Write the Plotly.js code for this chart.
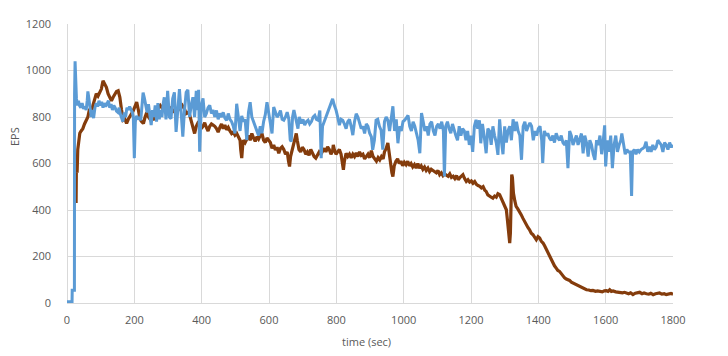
<!DOCTYPE html>
<html>
<head>
<meta charset="utf-8">
<script src="https://cdn.plot.ly/plotly-3.0.1.min.js"></script>
<style>html,body{margin:0;padding:0;background:#fff;}#chart{width:728px;height:356px;}</style>
</head>
<body>
<div id="chart"></div>
<script>
// time (sec) and EPS values
const brownTime = [27,28,30,32,35,38,42,47,52,57,62,67,72,77,82,87,92,97,102,107,112,117,122,127,132,137,142,147,152,157,162,167,172,177,182,187,192,197,202,207,212,217,222,227,232,237,242,247,252,257,262,267,272,277,282,287,292,297,
302,309,314,319,324,329,334,339,344,349,354,359,364,369,374,379,384,389,394,399,404,409,414,419,424,429,434,439,444,449,454,459,464,469,474,479,484,489,494,499,504,509,514,516,519,522,524,529,534,539,544,549,554,559,564,569,574,579,584,589,594,599,604,609,614,619,624,629,634,639,644,649,654,658,661,664,669,674,678,681,684,689,694,699,704,709,714,719,724,729,734,739,744,749,754,759,764,769,774,779,784,789,791,794,799,804,809,814,819,821,824,829,834,839,844,849,854,859,864,869,874,879,884,889,894,899,904,909,914,919,924,929,934,939,943,948,953,957,961,965,968,972,977,982,987,992,997,1002,1007,1012,1017,1022,1027,1032,1037,1042,1047,1052,1057,1062,1067,1072,1077,1082,1087,1092,1097,1102,1107,1112,1117,1122,1127,1132,1137,1142,1147,1152,1157,1162,1167,1172,1176,1181,1186,1191,1196,1201,1206,1211,1216,1221,1226,1231,1236,1241,1245,1250,1255,1260,1265,1270,1275,1280,1285,1290,1295,1300,1305,1308,1310,1313,1315,1317,1318,1320,1321,1323,1326,1330,1334,1339,1344,1349,1354,1359,1364,1369,1374,1379,1384,1389,1394,1399,1404,1409,1414,1419,1424,1429,1433,1438,1443,1448,1453,1458,1463,1468,1473,1478,1483,1488,1493,1498,1503,1508,1513,1518,1523,1528,1533,1538,1543,1550,1556,1562,1570,1576,1582,1590,1596,1602,1607,1612,1617,1622,1630,1636,1642,1650,1656,1661,1668,1674,1681,1688,1695,1701,1708,1714,1721,1728,1734,1741,1748,1754,1760,1767,1774,1780,1787,1794,1800];
const brownEPS = [430,620,560,660,700,730,740,750,770,786,800,835,820,850,880,900,890,906,920,956,940,928,900,885,870,885,900,910,913,885,830,786,790,772,790,800,815,828,850,864,830,790,780,772,800,820,800,790,800,786,820,830,845,850,840,845,835,843,
835,840,820,830,815,825,840,857,845,835,815,820,810,786,765,729,760,775,770,750,760,775,755,740,760,770,765,760,750,735,755,770,750,765,745,755,740,729,735,722,730,715,700,660,623,680,700,690,710,720,700,729,710,695,715,705,720,729,700,690,710,700,690,665,680,658,670,644,665,672,660,640,650,610,587,630,660,690,715,729,700,660,650,670,660,640,650,635,660,645,630,623,640,650,640,655,665,650,672,660,640,655,680,660,640,650,660,640,600,573,610,644,630,640,625,640,630,645,630,650,635,640,620,630,640,625,655,630,620,610,625,615,630,620,650,665,688,640,600,560,544,590,610,620,600,610,590,605,595,610,590,600,585,595,580,600,580,590,575,585,570,580,565,575,570,565,560,570,552,560,548,555,550,545,555,540,545,535,548,530,540,545,552,535,523,530,520,525,515,522,510,505,502,495,500,485,480,465,458,455,451,460,455,470,466,450,437,420,401,360,330,280,258,300,400,500,552,540,473,440,416,405,394,380,365,350,337,325,315,300,294,285,272,285,279,265,258,245,229,215,200,185,172,160,150,140,136,125,114,108,103,100,97,90,86,82,79,75,71,68,64,60,57,56,53,54,50,52,50,48,52,53,50,57,50,52,48,46,47,44,46,43,40,44,36,42,45,46,40,43,40,38,42,36,40,42,43,38,40,36,40,41,38];

const blueTime = [0,15,15.5,22,22.5,24,26,28,31,34,37,41,45,49,53,57,60,62,65,68,72,75,79,83,87,91,95,99,103,107,111,115,119,123,127,131,135,139,143,147,151,155,159,163,166,170,174,178,182,186,190,194,197,200,203,207,211,215,219,223,226,230,234,238,242,246,250,254,258,262,266,270,274,278,282,286,289,294,299,304,309,314,319,324,329,334,339,344,349,354,359,364,369,374,379,384,389,391,394,399,404,409,414,419,424,429,434,439,444,449,454,459,464,469,474,479,484,489,494,499,504,509,514,519,524,529,534,539,544,549,554,559,564,569,574,579,584,589,594,599,604,609,614,619,624,629,634,639,644,649,654,659,663,666,670,674,678,682,686,690,696,701,706,711,716,721,726,731,736,741,746,751,755,759,764,769,774,779,784,789,794,799,804,809,814,819,824,829,834,839,844,849,854,859,864,869,874,879,884,889,894,899,904,908,913,918,923,928,933,938,943,948,953,958,963,968,973,978,983,988,993,998,1003,1008,1013,1018,1023,1028,1033,1038,1043,1048,1053,1058,1063,1068,1073,1078,1083,1088,1093,1098,1103,1108,1113,1118,1121,1125,1130,1135,1140,1145,1150,1155,1160,1165,1170,1175,1180,1185,1190,1195,1200,1205,1210,1215,1220,1225,1229,1234,1239,1245,1250,1255,1260,1265,1270,1275,1280,1285,1290,1295,1300,1305,1310,1315,1320,1325,1330,1335,1340,1345,1350,1355,1360,1365,1370,1375,1380,1385,1390,1395,1400,1405,1410,1413,1418,1423,1428,1433,1438,1443,1448,1453,1458,1463,1468,1473,1478,1483,1488,1493,1498,1503,1508,1513,1518,1523,1528,1533,1538,1543,1548,1553,1558,1563,1568,1573,1578,1583,1588,1593,1597,1600,1605,1610,1615,1620,1625,1630,1635,1640,1645,1648,1653,1658,1663,1668,1673,1677,1680,1685,1690,1695,1700,1705,1710,1715,1720,1725,1730,1735,1740,1745,1750,1755,1760,1765,1770,1775,1780,1785,1790,1795,1800];
const blueEPS = [5,5,55,55,900,1040,960,880,850,870,850,840,860,835,845,830,870,910,880,850,800,830,795,840,860,845,870,850,865,840,860,845,855,870,840,855,830,850,840,825,820,840,810,790,780,820,800,840,830,845,835,820,800,623,780,805,790,800,785,845,905,880,850,820,855,800,765,830,800,850,780,860,790,830,800,860,885,790,913,800,793,880,906,736,830,920,820,715,830,906,917,800,850,885,800,913,830,917,651,850,880,800,815,840,850,815,830,800,828,790,815,800,820,795,785,815,790,780,760,729,857,800,740,805,780,790,701,820,864,800,780,760,740,720,760,730,780,810,864,820,786,729,843,820,800,810,828,790,786,800,821,790,702,694,800,830,800,780,750,800,772,790,765,780,786,770,780,800,807,790,786,828,623,760,780,800,820,843,860,878,850,830,800,765,790,786,770,750,780,790,760,722,780,814,800,770,750,760,729,770,760,730,715,659,700,786,790,760,743,660,780,800,786,740,790,846,740,790,687,760,740,780,786,800,807,760,740,780,760,730,700,644,817,780,740,760,720,770,780,740,720,760,770,750,780,740,544,760,780,750,730,770,740,720,700,760,720,750,740,700,740,680,720,650,760,788,750,786,687,770,720,644,750,740,680,760,720,690,637,790,701,640,760,690,740,760,700,790,740,780,740,720,616,760,780,740,760,774,760,700,740,720,750,760,700,602,740,720,730,710,700,720,690,730,710,700,720,690,680,700,580,740,720,680,700,720,680,700,729,644,720,690,630,700,680,640,616,700,680,720,640,700,764,587,700,650,720,580,680,720,650,680,700,729,690,640,660,650,650,460,650,660,640,660,650,660,664,670,694,650,672,650,680,660,670,700,690,680,650,690,680,660,690,670,680];

const xTicks = [0,200,400,600,800,1000,1200,1400,1600,1800];
const yTicks = [0,200,400,600,800,1000,1200];
const xTitle = 'time (sec)';
const yTitle = 'EPS';

const gridColor = '#d9d9d9';
const tickFont = {family: 'Open Sans, sans-serif', size: 11, color: '#595959'};

const traces = [
  {x: brownTime, y: brownEPS, type: 'scatter', mode: 'lines', name: 'series 2',
   line: {color: '#843C0C', width: 3.2}, hoverinfo: 'skip'},
  {x: blueTime, y: blueEPS, type: 'scatter', mode: 'lines', name: 'series 1',
   line: {color: '#5B9BD5', width: 3}, hoverinfo: 'skip'}
];

const layout = {
  width: 728, height: 356,
  margin: {l: 67, r: 55, t: 24, b: 53},
  paper_bgcolor: '#ffffff', plot_bgcolor: '#ffffff',
  showlegend: false,
  font: tickFont,
  xaxis: {
    range: [0, 1800], tickvals: xTicks, ticktext: xTicks.map(String),
    showgrid: true, gridcolor: gridColor, gridwidth: 1,
    zeroline: true, zerolinecolor: gridColor, zerolinewidth: 1,
    showline: true, linecolor: gridColor, linewidth: 1, mirror: false,
    ticks: '', tickfont: tickFont, ticklabelstandoff: 7, fixedrange: true
  },
  yaxis: {
    range: [0, 1200], tickvals: yTicks, ticktext: yTicks.map(String),
    showgrid: true, gridcolor: gridColor, gridwidth: 1,
    zeroline: true, zerolinecolor: gridColor, zerolinewidth: 1,
    showline: false,
    ticks: '', tickfont: tickFont, ticklabelstandoff: 15, fixedrange: true
  },
  annotations: [
    {text: xTitle, xref: 'paper', yref: 'paper', x: (366 - 67) / 606, y: -(342 - 303) / 279,
     xanchor: 'center', yanchor: 'middle', showarrow: false, font: tickFont},
    {text: yTitle, xref: 'paper', yref: 'paper', x: -(67 - 14) / 606, y: (303 - 137) / 279,
     xanchor: 'center', yanchor: 'middle', textangle: -90, showarrow: false, font: tickFont}
  ]
};

Plotly.newPlot('chart', traces, layout, {displayModeBar: false, staticPlot: true});
</script>
</body>
</html>
